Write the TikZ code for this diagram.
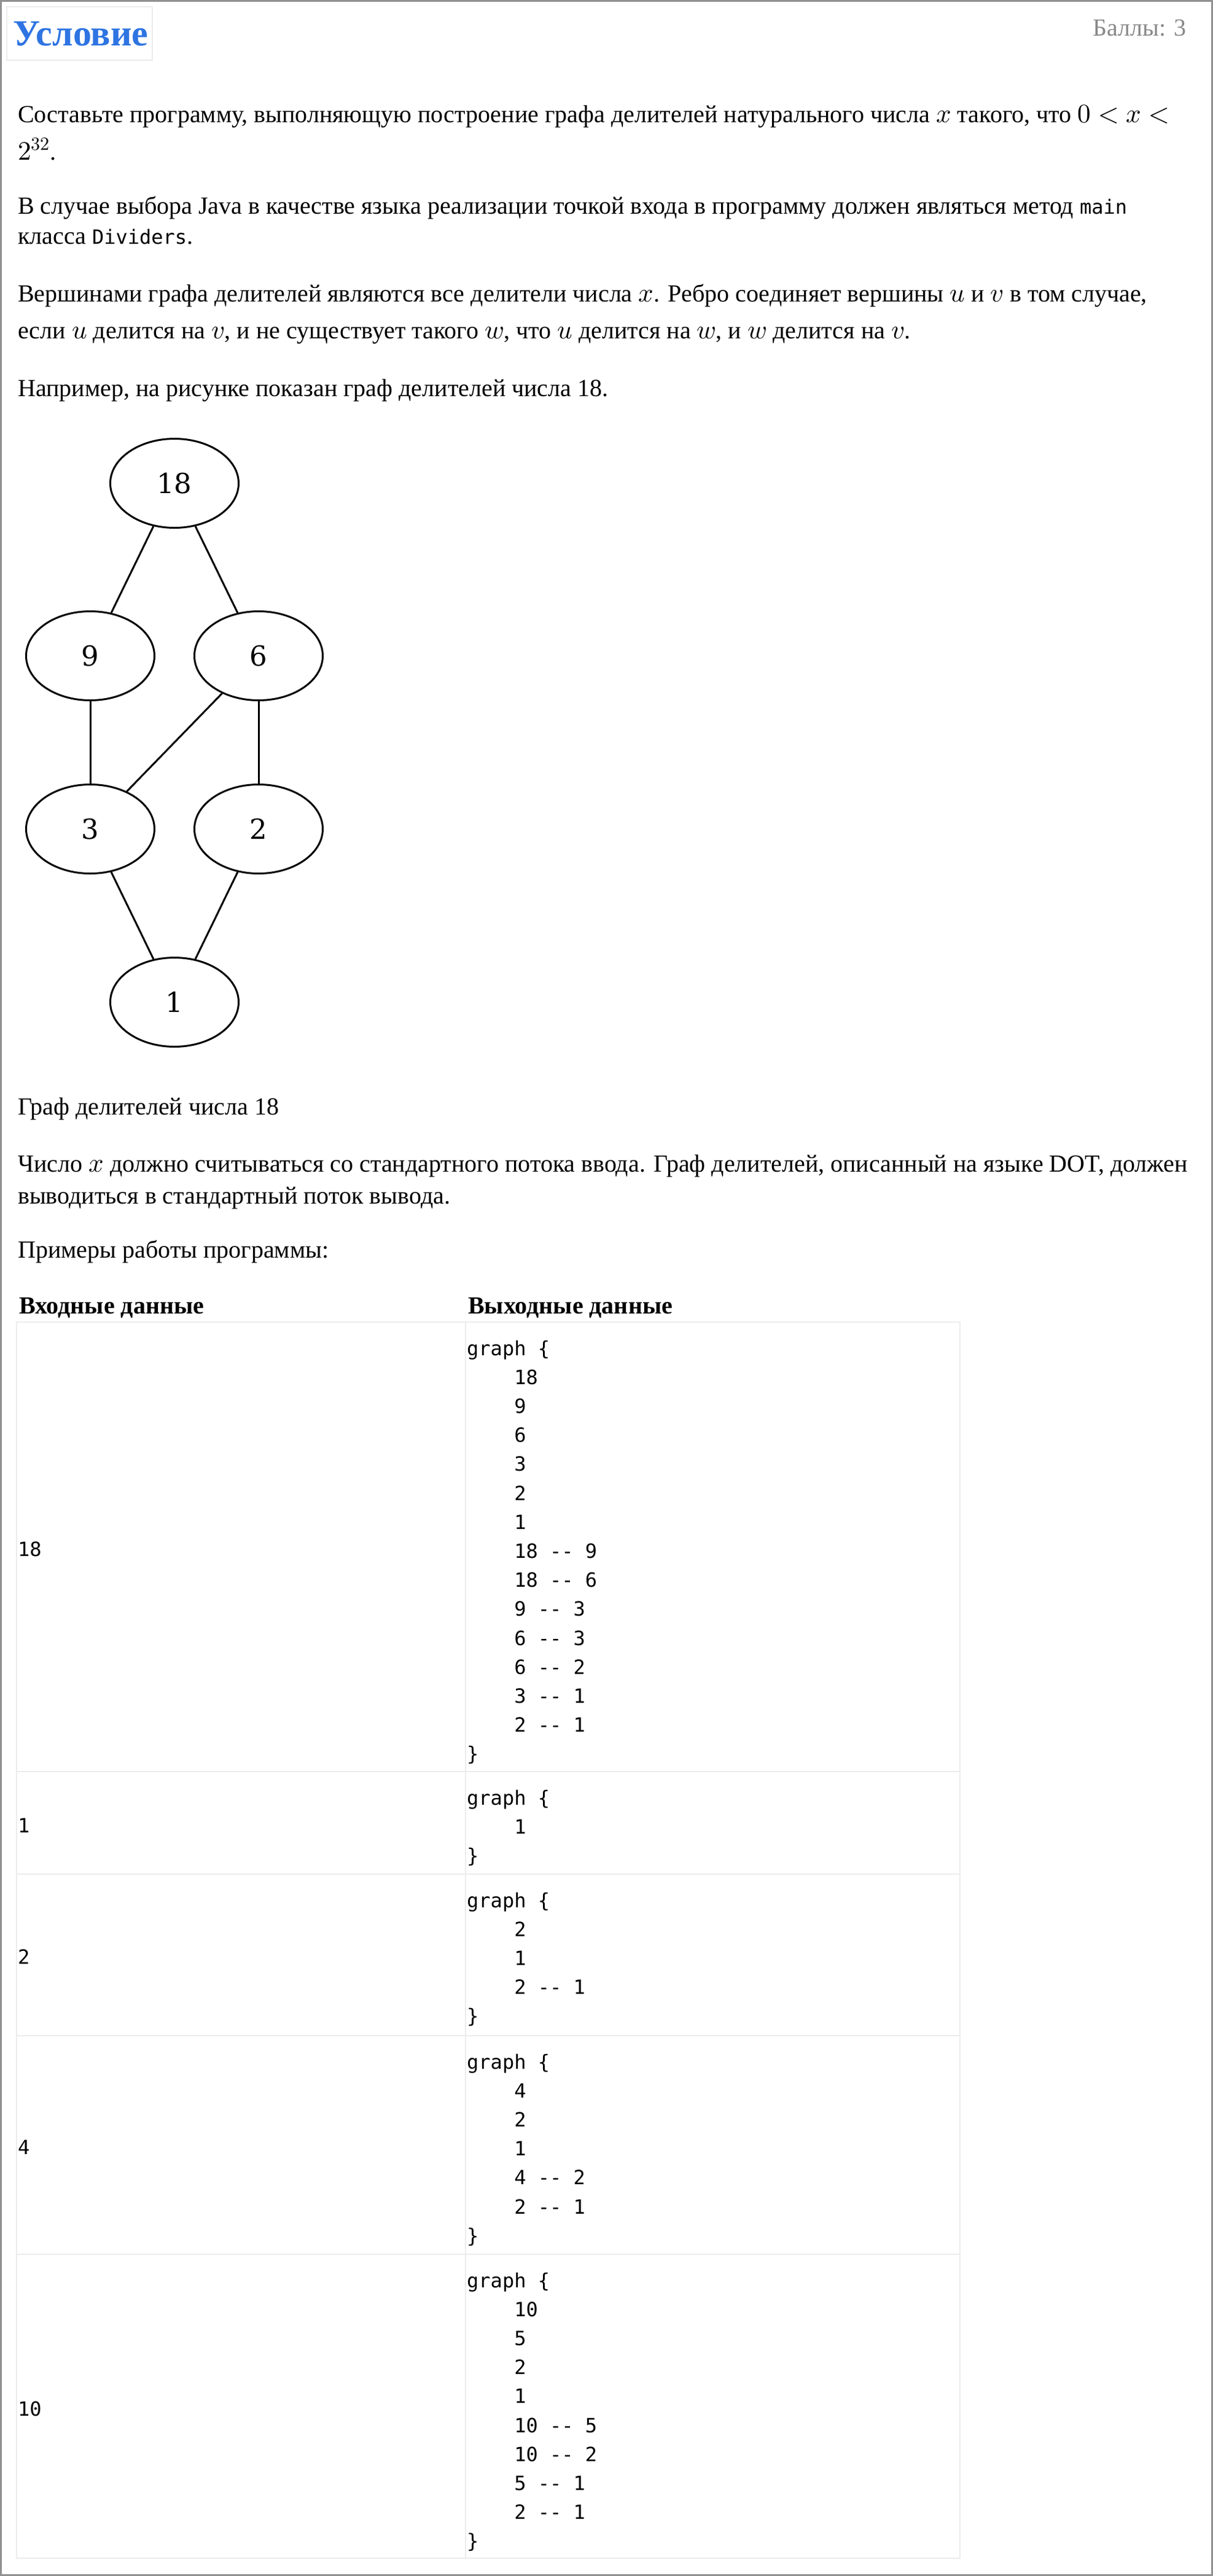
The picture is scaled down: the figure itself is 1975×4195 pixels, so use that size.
\documentclass[tikz,border=0pt]{standalone}
\usepackage{fontspec}
\usepackage{unicode-math}
\setmainfont{Liberation Serif}
\setmonofont{DejaVu Sans Mono}
\setmathfont{Latin Modern Math}[Scale=1.08]
\newfontfamily\dotfont{DejaVu Serif}
\usetikzlibrary{shapes.geometric}
\definecolor{titleblue}{RGB}{46,116,226}
\definecolor{framegray}{RGB}{145,145,145}
\definecolor{cellgray}{RGB}{236,236,236}
\definecolor{pointgray}{RGB}{136,136,136}
\newcommand{\cd}[1]{{\ttfamily\fontsize{32}{48}\selectfont #1}}
\newcommand{\indnt}{\hphantom{0000}}
\newcommand{\codelines}[1]{\begin{tabular}[t]{@{}l@{}}#1\end{tabular}}

\begin{document}
\begin{tikzpicture}[x=1pt,y=-1pt]
\tikzstyle{every node}+=[inner sep=0pt]
\tikzstyle{txt}=[anchor=base west,font=\fontsize{40}{48}\selectfont]
\tikzstyle{head}=[anchor=base west,font=\bfseries\fontsize{40}{48}\selectfont]
\tikzstyle{vert}=[draw,ellipse,line width=3pt,minimum width=209pt,minimum height=145pt,font=\dotfont\fontsize{45}{50}\selectfont]
\tikzstyle{edge}=[line width=3pt]
\tikzstyle{cell}=[draw=cellgray,line width=2.5pt]
\tikzstyle{code}=[anchor=base west,font=\ttfamily\fontsize{32}{47.2}\selectfont]
\useasboundingbox (0,0) rectangle (1975,4195);
\draw [framegray,line width=3pt] (1.5,1.5) rectangle (1973.5,4193.5);
\draw [cellgray,line width=2pt] (11,11) rectangle (248,98);
\node [anchor=base west,text=titleblue,font=\bfseries\fontsize{60}{66}\selectfont] (cond) at (21,74) {Условие};
\node [anchor=base east,text=pointgray,font=\fontsize{40}{48}\selectfont] (points) at (1932,58) {Баллы: 3};
\node [txt] (p1a) at (29,199) {Составьте программу, выполняющую построение графа делителей натурального числа $x$ такого, что $0<x<$};
\node [txt] (p1b) at (29,260) {$2^{32}$.};
\node [txt] (p2a) at (29,348) {В случае выбора Java в качестве языка реализации точкой входа в программу должен являться метод \cd{main}};
\node [txt] (p2b) at (29,397) {класса \cd{Dividers}.};
\node [txt] (p3a) at (29,491) {Вершинами графа делителей являются все делители числа $x$. Ребро соединяет вершины $u$ и $v$ в том случае,};
\node [txt] (p3b) at (29,551) {если $u$ делится на $v$, и не существует такого $w$, что $u$ делится на $w$, и $w$ делится на $v$.};
\node [txt] (p4) at (29,645) {Например, на рисунке показан граф делителей числа 18.};
\node [vert] (n18) at (284,787) {18};
\node [vert] (n9) at (147,1068) {9};
\node [vert] (n6) at (421,1068) {6};
\node [vert] (n3) at (147,1350) {3};
\node [vert] (n2) at (421,1350) {2};
\node [vert] (n1) at (284,1632) {1};
\draw [edge] (n18) -- (n9);
\draw [edge] (n18) -- (n6);
\draw [edge] (n9) -- (n3);
\draw [edge] (n6) -- (n3);
\draw [edge] (n6) -- (n2);
\draw [edge] (n3) -- (n1);
\draw [edge] (n2) -- (n1);
\node [txt] (cap) at (29,1815) {Граф делителей числа 18};
\node [txt] (p5a) at (29,1908) {Число $x$ должно считываться со стандартного потока ввода. Граф делителей, описанный на языке DOT, должен};
\node [txt] (p5b) at (29,1960) {выводиться в стандартный поток вывода.};
\node [txt] (p6) at (29,2048) {Примеры работы программы:};
\node [head] (hin) at (31,2139) {Входные данные};
\node [head] (hout) at (762,2139) {Выходные данные};
\draw [cell] (27,2153) rectangle (1563,4166);
\draw [cell] (758,2153) -- (758,4166);
\draw [cell] (27,2885) -- (1563,2885);
\draw [cell] (27,3052) -- (1563,3052);
\draw [cell] (27,3315) -- (1563,3315);
\draw [cell] (27,3671) -- (1563,3671);
\node [code] (in1) at (29,2534) {18};
\node [code] (in2) at (29,2984) {1};
\node [code] (in3) at (29,3198) {2};
\node [code] (in4) at (29,3508) {4};
\node [code] (in5) at (29,3934) {10};
\node [code] (out1) at (760,2207) {\codelines{graph \{\\ \indnt 18\\ \indnt 9\\ \indnt 6\\ \indnt 3\\ \indnt 2\\ \indnt 1\\ \indnt 18 -{}- 9\\ \indnt 18 -{}- 6\\ \indnt 9 -{}- 3\\ \indnt 6 -{}- 3\\ \indnt 6 -{}- 2\\ \indnt 3 -{}- 1\\ \indnt 2 -{}- 1\\ \}}};
\node [code] (out2) at (760,2939) {\codelines{graph \{\\ \indnt 1\\ \}}};
\node [code] (out3) at (760,3106) {\codelines{graph \{\\ \indnt 2\\ \indnt 1\\ \indnt 2 -{}- 1\\ \}}};
\node [code] (out4) at (760,3369) {\codelines{graph \{\\ \indnt 4\\ \indnt 2\\ \indnt 1\\ \indnt 4 -{}- 2\\ \indnt 2 -{}- 1\\ \}}};
\node [code] (out5) at (760,3725) {\codelines{graph \{\\ \indnt 10\\ \indnt 5\\ \indnt 2\\ \indnt 1\\ \indnt 10 -{}- 5\\ \indnt 10 -{}- 2\\ \indnt 5 -{}- 1\\ \indnt 2 -{}- 1\\ \}}};
\end{tikzpicture}
\end{document}
